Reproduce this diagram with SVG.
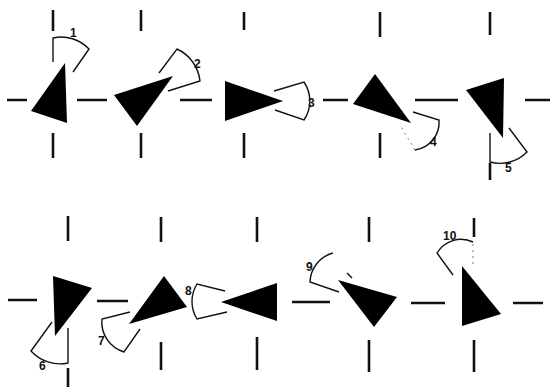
<svg xmlns="http://www.w3.org/2000/svg" width="550" height="388" viewBox="0 0 550 388">
<style>
.tick{stroke:#111;stroke-width:2.6;stroke-linecap:butt;fill:none}
.tri{fill:#000}
.sec{stroke:#111;stroke-width:1.4;fill:none;stroke-linejoin:miter}
.faint{stroke:#777;stroke-width:1;fill:none;stroke-dasharray:2 4}
.lbl{font-family:"Liberation Sans",Arial,sans-serif;font-weight:bold;font-size:12px;fill:#111}
</style>
<rect width="550" height="388" fill="#fff"/>
<g id="grid">
<path class="tick" d="M7,100H27M77,100H107M180,100H212M323,100H348M415,100H458M525,100H550"/>
<path class="tick" d="M53,10V31M53,133V158M141,10V31M141,133V158M244,12V30M244,133V158M380,12V37M380,133V158M490,12V35M490,163V180"/>
<path class="tick" d="M8,300H37M97,301H128M292,302H330M411,303H445M513,303H543"/>
<path class="tick" d="M68,216V241M68,368V387M161,217V242M161,342V370M257,217V242M257,337V370M369,217V242M369,340V372M474,218V237M474,340V372"/>
</g>
<g id="fig1">
<polygon class="tri" points="65,63 31,111 67,123"/>
<path class="sec" d="M53,62V38A38,38 0 0 1 89,49L73,72"/>
<text class="lbl" x="70" y="37" font-size="10">1</text>
</g>
<g id="fig2">
<polygon class="tri" points="114,95 173,76 137,126"/>
<path class="sec" d="M159,73L177,49A40,40 0 0 1 200,81L168,91"/>
<text class="lbl" x="194" y="68">2</text>
</g>
<g id="fig3">
<polygon class="tri" points="225,81 225,121 283,101"/>
<path class="sec" d="M274,91L304,82A34,34 0 0 1 304,120L275,110"/>
<text class="lbl" x="308" y="107">3</text>
</g>
<g id="fig4">
<polygon class="tri" points="375,74 353,104 411,123"/>
<path class="sec" d="M413,112L439,120A28,28 0 0 1 415,150"/>
<path class="faint" d="M415,150L400,125"/>
<text class="lbl" x="430" y="146">4</text>
</g>
<g id="fig5">
<polygon class="tri" points="466,90 504,78 503,138"/>
<path class="sec" d="M490,133V162A38,38 0 0 0 527,152L509,128"/>
<text class="lbl" x="505" y="172">5</text>
</g>
<g id="fig6">
<polygon class="tri" points="53,276 92,288 55,336"/>
<path class="sec" d="M52,322L31,351A39,39 0 0 0 68,363V328"/>
<text class="lbl" x="39" y="370">6</text>
</g>
<g id="fig7">
<polygon class="tri" points="164,276 187,307 129,324"/>
<path class="sec" d="M130,312L102,319A31,31 0 0 0 124,352L140,329"/>
<text class="lbl" x="98" y="345">7</text>
</g>
<g id="fig8">
<polygon class="tri" points="221,302 277,283 277,321"/>
<path class="sec" d="M225,291L197,284A33,33 0 0 0 197,319L227,312"/>
<text class="lbl" x="185" y="295">8</text>
</g>
<g id="fig9">
<polygon class="tri" points="338,280 397,297 374,327"/>
<path class="sec" d="M339,292L310,282A31,31 0 0 1 333,253"/>
<path class="sec" d="M347,273L352,278"/>
<text class="lbl" x="306" y="271">9</text>
</g>
<g id="fig10">
<polygon class="tri" points="462,266 501,314 462,326"/>
<path class="sec" d="M453,275L437,253A28,28 0 0 1 473,242"/>
<path class="faint" d="M473,244V265"/>
<text class="lbl" x="443" y="240">10</text>
</g>
</svg>
